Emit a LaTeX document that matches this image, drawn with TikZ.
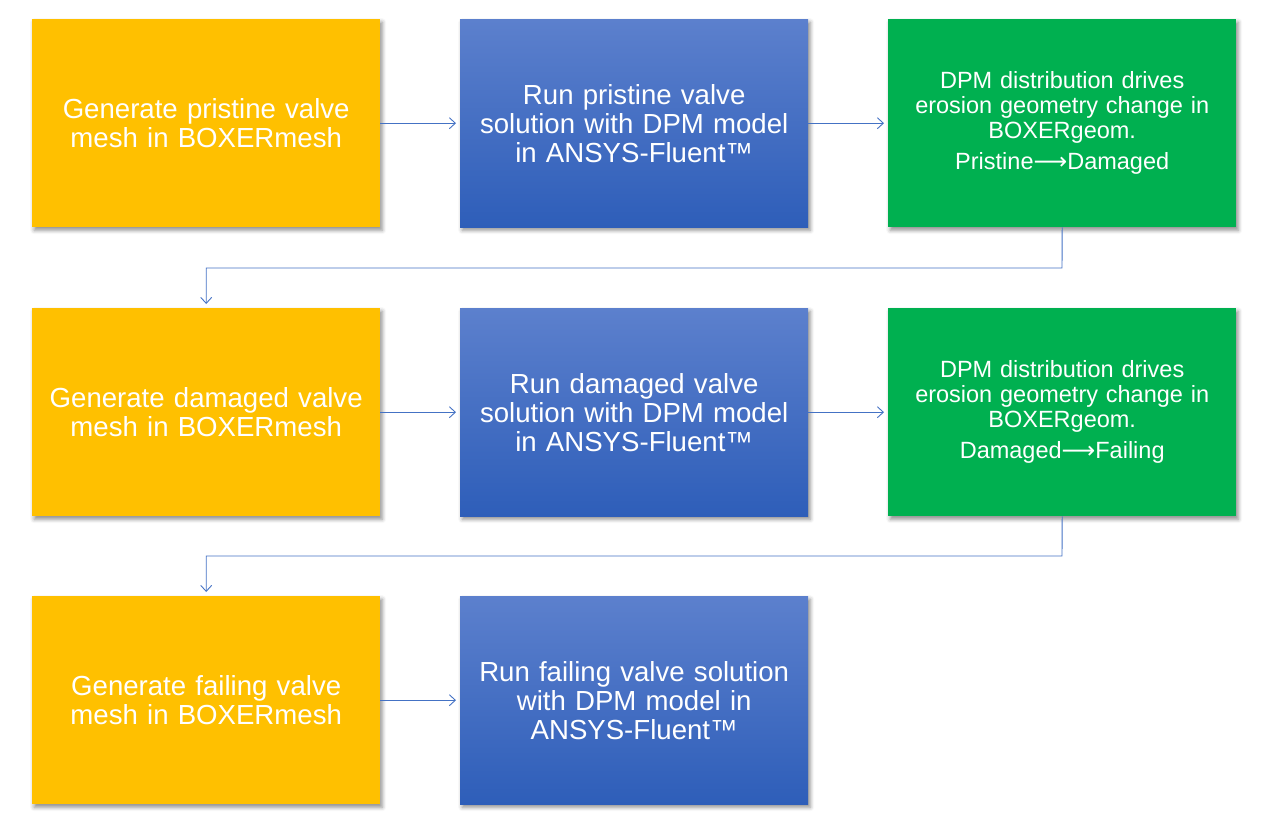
\documentclass[tikz,border=0pt]{standalone}
\usepackage{fontspec}
\setmainfont{Liberation Sans}
\newfontfamily\arrowfont{DejaVu Sans}
\usetikzlibrary{arrows.meta,shadows.blur,positioning}
\definecolor{yel}{RGB}{255,192,0}
\definecolor{grn}{RGB}{0,176,80}
\definecolor{bltop}{RGB}{92,128,205}
\definecolor{blbot}{RGB}{46,94,185}
\definecolor{conn}{RGB}{68,114,196}
\begin{document}
\begin{tikzpicture}[x=1pt,y=-1pt,
  box/.style={anchor=north west,minimum width=348pt,minimum height=208pt,inner sep=0pt,
    text=white,align=center,text width=340pt,
    blur shadow={shadow xshift=2pt,shadow yshift=-3pt,shadow blur radius=4pt,shadow opacity=45}},
  ybox/.style={box,fill=yel,font=\fontsize{27.6}{29}\selectfont},
  bbox/.style={box,top color=bltop,bottom color=blbot,font=\fontsize{27.6}{29}\selectfont},
  gbox/.style={box,fill=grn,font=\fontsize{23.5}{25}\selectfont},
  conn/.style={draw=conn,line width=0.9pt,-{Straight Barb[length=6pt,width=11pt,line width=0.9pt]},shorten >=4pt}
]
\useasboundingbox (0,0) rectangle (1266,836);
\node[ybox] (y1) at (32,19) {Generate pristine valve\\mesh in BOXERmesh};
\node[bbox] (b1) at (460,19) {Run pristine valve\\solution with DPM model\\in ANSYS-Fluent™};
\node[gbox] (g1) at (888,19) {DPM distribution drives\\erosion geometry change in\\BOXERgeom.\\[6pt]Pristine{\arrowfont ⟶}Damaged};
\node[ybox] (y2) at (32,308) {Generate damaged valve\\mesh in BOXERmesh};
\node[bbox] (b2) at (460,308) {Run damaged valve\\solution with DPM model\\in ANSYS-Fluent™};
\node[gbox] (g2) at (888,308) {DPM distribution drives\\erosion geometry change in\\BOXERgeom.\\[6pt]Damaged{\arrowfont ⟶}Failing};
\node[ybox] (y3) at (32,596) {Generate failing valve\\mesh in BOXERmesh};
\node[bbox] (b3) at (460,596) {Run failing valve solution\\with DPM model in\\ANSYS-Fluent™};
\coordinate (c1) at (1062,268);
\coordinate (c2) at (1062,556);
\draw[conn] (y1.east) -- (b1.west);
\draw[conn] (b1.east) -- (g1.west);
\draw[conn] (g1.south) -- (c1) -| (y2.north);
\draw[conn] (y2.east) -- (b2.west);
\draw[conn] (b2.east) -- (g2.west);
\draw[conn] (g2.south) -- (c2) -| (y3.north);
\draw[conn] (y3.east) -- (b3.west);
\end{tikzpicture}
\end{document}
